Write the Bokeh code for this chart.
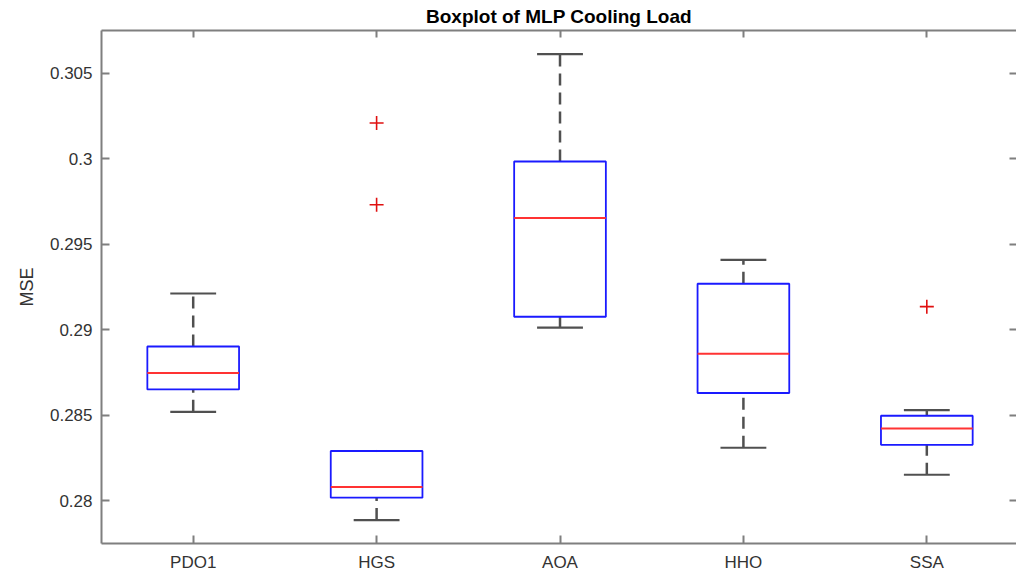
from bokeh.plotting import figure
from bokeh.models import Range1d, LinearAxis, FixedTicker, ColumnDataSource
from bokeh.embed import file_html
from bokeh.resources import INLINE

# ---- data ----
title_text = "Boxplot of MLP Cooling Load"
methods = ["PDO1", "HGS", "AOA", "HHO", "SSA"]
positions = [1, 2, 3, 4, 5]
lower_whisker = [0.28520, 0.27887, 0.29013, 0.28310, 0.28152]
q1 = [0.28651, 0.28018, 0.29076, 0.28630, 0.28327]
median = [0.28747, 0.28080, 0.29653, 0.28860, 0.28423]
q3 = [0.28902, 0.28291, 0.29984, 0.29269, 0.28497]
upper_whisker = [0.29212, 0.28291, 0.30612, 0.29409, 0.28530]
outlier_pos = [2, 2, 5]
outlier_val = [0.30209, 0.29731, 0.29135]
y_ticks = [0.28, 0.285, 0.29, 0.295, 0.3, 0.305]
y_tick_labels = ["0.28", "0.285", "0.29", "0.295", "0.3", "0.305"]

BOX_HALF = 0.25
CAP_HALF = 0.125
AX_COLOR = "#7f7f7f"
TXT_COLOR = "#333333"
FONT = "Liberation Sans"

p = figure(width=1016, height=578, output_backend="svg", toolbar_location=None,
           x_range=Range1d(0.5, 5.489), y_range=Range1d(0.2775, 0.3075),
           min_border_left=101, min_border_right=0, min_border_top=30, min_border_bottom=35,
           title=title_text)
p.outline_line_color = None
p.xgrid.visible = False
p.ygrid.visible = False
p.background_fill_color = "white"
p.border_fill_color = "white"

p.title.align = "center"
p.title.text_font = FONT
p.title.text_font_size = "19px"
p.title.text_font_style = "bold"
p.title.text_color = "#000000"
p.title.standoff = 7
p.title.offset = 0

# bottom axis
xa = p.xaxis[0]
xa.ticker = FixedTicker(ticks=positions)
xa.major_label_overrides = {pos: m for pos, m in zip(positions, methods)}
# left axis
ya = p.yaxis[0]
ya.ticker = FixedTicker(ticks=y_ticks)
ya.major_label_overrides = {t: l for t, l in zip(y_ticks, y_tick_labels)}
ya.axis_label = "MSE"

for ax in (xa, ya):
    ax.axis_line_color = AX_COLOR
    ax.axis_line_width = 2
    ax.major_tick_line_color = AX_COLOR
    ax.major_tick_line_width = 2
    ax.major_tick_in = 8
    ax.major_tick_out = 0
    ax.minor_tick_line_color = None
    ax.major_label_text_font = FONT
    ax.major_label_text_font_size = "17px"
    ax.major_label_text_color = TXT_COLOR
    ax.axis_label_text_font = FONT
    ax.axis_label_text_font_size = "18px"
    ax.axis_label_text_font_style = "normal"
    ax.axis_label_text_color = TXT_COLOR
xa.major_label_standoff = 9
ya.major_label_standoff = 9
ya.axis_label_standoff = 10

# top axis (spine with inward ticks, no labels)
top = LinearAxis(ticker=FixedTicker(ticks=positions),
                 major_label_overrides={pos: "" for pos in positions},
                 major_label_text_font_size="1px",
                 axis_line_color=AX_COLOR, axis_line_width=2,
                 major_tick_line_color=AX_COLOR, major_tick_line_width=2,
                 major_tick_in=7, major_tick_out=0, minor_tick_line_color=None,
                 major_label_standoff=0)
p.add_layout(top, "above")

# right axis (inward ticks only; its spine lies just beyond the picture edge)
right = LinearAxis(ticker=FixedTicker(ticks=y_ticks),
                   major_label_overrides={t: "" for t in y_ticks},
                   major_label_text_font_size="1px",
                   axis_line_color=None,
                   major_tick_line_color=AX_COLOR, major_tick_line_width=2,
                   major_tick_in=7, major_tick_out=0, minor_tick_line_color=None,
                   major_label_standoff=0)
p.add_layout(right, "right")

src = ColumnDataSource(dict(
    x=positions,
    left=[x - BOX_HALF for x in positions],
    right=[x + BOX_HALF for x in positions],
    cl=[x - CAP_HALF for x in positions],
    cr=[x + CAP_HALF for x in positions],
    lw=lower_whisker, q1=q1, med=median, q3=q3, uw=upper_whisker,
))

WH = "#505050"
# whiskers (dashed)
p.segment(x0="x", y0="q3", x1="x", y1="uw", source=src, line_color=WH, line_width=2.5, line_dash="12 7")
p.segment(x0="x", y0="lw", x1="x", y1="q1", source=src, line_color=WH, line_width=2.5, line_dash="12 7")
# caps
p.segment(x0="cl", y0="uw", x1="cr", y1="uw", source=src, line_color=WH, line_width=2.2)
p.segment(x0="cl", y0="lw", x1="cr", y1="lw", source=src, line_color=WH, line_width=2.2)
# boxes
p.quad(left="left", right="right", bottom="q1", top="q3", source=src,
       fill_color=None, line_color="#1a1aff", line_width=1.8)
# medians
p.segment(x0="left", y0="med", x1="right", y1="med", source=src, line_color="#ff3333", line_width=2)
# outliers
p.scatter(x=outlier_pos, y=outlier_val, marker="cross", size=14, line_color="#e01010", line_width=1.6)

open("out.html", "w").write(file_html(p, INLINE))
